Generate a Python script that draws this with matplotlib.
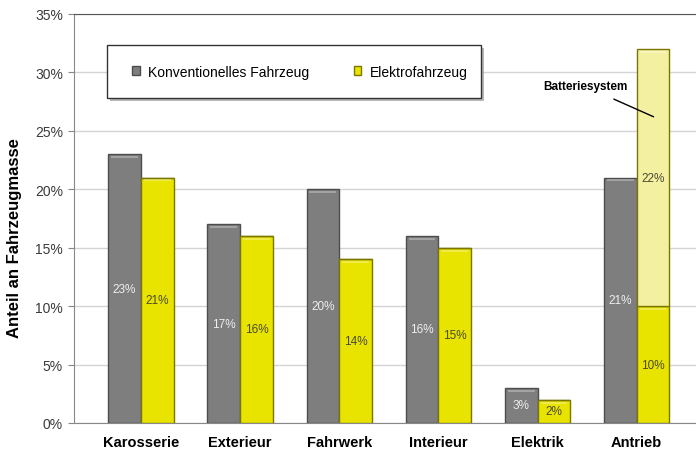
import matplotlib.pyplot as plt
import numpy as np
from matplotlib.patches import Rectangle

# mass share per vehicle module, in percent
categories = ['Karosserie', 'Exterieur', 'Fahrwerk', 'Interieur', 'Elektrik', 'Antrieb']
conventional = [23, 17, 20, 16, 3, 21]
electric = [21, 16, 14, 15, 2, 10]
battery = [0, 0, 0, 0, 0, 22]
series_names = ['Konventionelles Fahrzeug', 'Elektrofahrzeug']
battery_name = 'Batteriesystem'
yticks = [0, 5, 10, 15, 20, 25, 30, 35]

plt.rcParams['font.family'] = ['Liberation Sans', 'DejaVu Sans']

GRAY = '#7e7e7e'
GRAY_EDGE = '#4d4d4d'
YELLOW = '#e9e300'
YELLOW_EDGE = '#7a7600'
LIGHT_YELLOW = '#f4f0a2'

fig = plt.figure(figsize=(6.96, 4.52), dpi=100)
ax = fig.add_axes([0.1063, 0.062, 0.894, 0.905])

x = np.arange(len(categories))
w = 0.33


def draw_bars(xs, bottoms, heights, color, edge):
    bars = ax.bar(xs, heights, w, bottom=bottoms, color=color, edgecolor=edge,
                  linewidth=1.0, zorder=3)
    # bevel highlight along the top of each bar
    for b in bars:
        if b.get_height() <= 0:
            continue
        bx, by = b.get_x(), b.get_y() + b.get_height()
        ax.plot([bx + 0.03, bx + w - 0.03], [by - 0.25, by - 0.25],
                color='white', alpha=0.35, lw=1.2, zorder=4, solid_capstyle='butt')
    return bars


draw_bars(x - w / 2, 0, conventional, GRAY, GRAY_EDGE)
draw_bars(x + w / 2, 0, electric, YELLOW, YELLOW_EDGE)
draw_bars(x + w / 2, electric, battery, LIGHT_YELLOW, YELLOW_EDGE)

for i in range(len(categories)):
    ax.text(x[i] - w / 2, conventional[i] / 2, f'{conventional[i]}%', ha='center',
            va='center', color='#eeeeee', fontsize=8.5, zorder=5)
    ax.text(x[i] + w / 2, electric[i] / 2, f'{electric[i]}%', ha='center',
            va='center', color='#4a4a30', fontsize=8.5, zorder=5)
    if battery[i] > 0:
        ax.text(x[i] + w / 2, electric[i] + battery[i] / 2, f'{battery[i]}%',
                ha='center', va='center', color='#4a4a30', fontsize=8.5, zorder=5)

# callout for the battery segment
ax.annotate(battery_name, xy=(x[-1] + 0.17, 26.2), xytext=(x[-1] - 0.52, 28.8),
            fontsize=8.5, fontweight='bold', ha='center', va='center',
            arrowprops=dict(arrowstyle='-', color='black', lw=1.0,
                            shrinkA=7, shrinkB=0), zorder=6)

ax.set_xlim(-0.675, 5.6)
ax.set_ylim(0, 35)
ax.set_yticks(yticks)
ax.set_yticklabels([f'{t}%' for t in yticks], fontsize=10, color='#3a3a3a')
ax.set_xticks(x)
ax.set_xticklabels(categories, fontsize=10.5, fontweight='bold')
ax.tick_params(axis='x', length=0, pad=9)
ax.tick_params(axis='y', length=4, color='#888888', direction='out', pad=4)
ax.yaxis.grid(True, color='#d4d4d4', lw=1.0, zorder=0)
ax.set_axisbelow(True)

ax.spines['right'].set_visible(False)
ax.spines['left'].set_color('#888888')
ax.spines['bottom'].set_color('#888888')
ax.spines['top'].set_color('#555555')

ax.set_ylabel('Anteil an Fahrzeugmasse', fontsize=12, fontweight='bold')
ax.yaxis.set_label_coords(-0.083, 0.455)

# legend box with drop shadow
lx0, ly0, lx1, ly1 = 107, 353, 481, 406
fx = lambda px: px / 696
fy = lambda py: py / 452
shadow = Rectangle((fx(lx0 + 3), fy(ly0 - 3)), fx(lx1 - lx0), fy(ly1 - ly0),
                   transform=fig.transFigure, facecolor='#9a9a9a', edgecolor='none',
                   zorder=7, alpha=0.7)
box = Rectangle((fx(lx0), fy(ly0)), fx(lx1 - lx0), fy(ly1 - ly0),
                transform=fig.transFigure, facecolor='white', edgecolor='#333333',
                lw=1.0, zorder=8)
fig.patches.extend([shadow, box])
handles = [Rectangle((0, 0), 1, 1, facecolor=GRAY, edgecolor=GRAY_EDGE),
           Rectangle((0, 0), 1, 1, facecolor=YELLOW, edgecolor=YELLOW_EDGE)]
leg = fig.legend(handles, series_names, loc='center', ncol=2,
                 bbox_to_anchor=(fx((lx0 + lx1) / 2 + 6), fy((ly0 + ly1) / 2)),
                 frameon=False, handlelength=0.55, handleheight=0.55, handletextpad=0.6,
                 columnspacing=3.2, prop={'size': 10})
leg.set_zorder(9)

fig.savefig('out.png', dpi=100)
